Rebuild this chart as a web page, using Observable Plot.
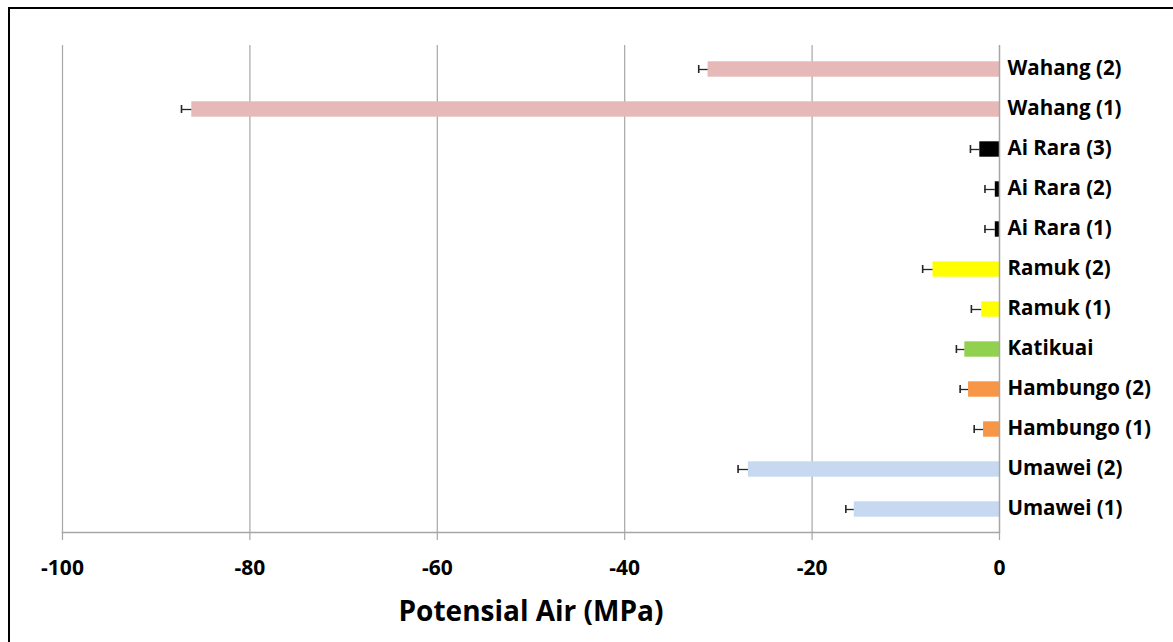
<!DOCTYPE html>
<html>
<head>
<meta charset="utf-8">
<script src="https://cdn.jsdelivr.net/npm/d3@7"></script>
<script src="https://cdn.jsdelivr.net/npm/@observablehq/plot@0.6"></script>
<style>
  html, body { margin: 0; padding: 0; background: #fff; }
  body { width: 1173px; height: 642px; overflow: hidden; position: relative; }
  #border { position: absolute; left: 8px; top: 7px; width: 1200px; height: 700px;
            border-top: 2px solid #000; border-left: 2px solid #000; }
  #chart { position: absolute; left: 0; top: 0; }
</style>
</head>
<body>
<div id="border"></div>
<div id="chart"></div>
<script>
const sites = ["Wahang (2)", "Wahang (1)", "Ai Rara (3)", "Ai Rara (2)", "Ai Rara (1)",
  "Ramuk (2)", "Ramuk (1)", "Katikuai", "Hambungo (2)", "Hambungo (1)", "Umawei (2)", "Umawei (1)"];
const values = [-31.1, -86.2, -2.1, -0.45, -0.45, -7.1, -1.9, -3.7, -3.3, -1.7, -26.8, -15.5];
const errors = [1.0, 1.1, 1.0, 1.1, 1.1, 1.1, 1.1, 0.9, 0.9, 1.0, 1.1, 0.9];
const groups = ["Wahang", "Wahang", "Ai Rara", "Ai Rara", "Ai Rara", "Ramuk", "Ramuk",
  "Katikuai", "Hambungo", "Hambungo", "Umawei", "Umawei"];
const groupNames = ["Wahang", "Ai Rara", "Ramuk", "Katikuai", "Hambungo", "Umawei"];
const groupColors = ["#e6b9b8", "#000000", "#ffff00", "#92d050", "#f79646", "#c6d9f1"];
const xTicks = [-100, -80, -60, -40, -20, 0];
const xLabel = "Potensial Air (MPa)";

const data = sites.map((s, i) => ({site: s, value: values[i], err: errors[i], group: groups[i]}));

const plot = Plot.plot({
  width: 1173,
  height: 642,
  marginLeft: 62,
  marginRight: 174,
  marginTop: 45,
  marginBottom: 110,
  style: {fontFamily: "'Open Sans', Lato, sans-serif", background: "transparent"},
  x: {domain: [-100, 0], ticks: xTicks, tickFormat: d => d === 0 ? "0" : String(d)},
  y: {domain: sites, padding: 0, axis: null},
  color: {domain: groupNames, range: groupColors},
  marks: [
    Plot.ruleX(xTicks.filter(t => t !== 0), {stroke: "#a6a6a6", strokeWidth: 1.2, strokeOpacity: 1}),
    Plot.frame({anchor: "bottom", stroke: "#a6a6a6", strokeWidth: 1.5}),
    Plot.axisX({ticks: xTicks, tickSize: 8, tickPadding: 20, stroke: "#a6a6a6", strokeWidth: 1.2,
      fontSize: 21, fontWeight: "bold", fill: "#000",
      tickFormat: d => d === 0 ? "0" : String(d),
      label: xLabel, labelAnchor: "center", labelArrow: "none", labelOffset: 88}),
    Plot.barX(data, {x1: 0, x2: "value", y: "site", fill: "group", insetTop: 12.3, insetBottom: 12.3}),
    Plot.ruleY(data, {y: "site", x1: "value", x2: d => d.value - d.err, stroke: "#262626", strokeWidth: 1.3}),
    Plot.tickX(data, {x: d => d.value - d.err, y: "site", stroke: "#262626", strokeWidth: 1.6, insetTop: 16, insetBottom: 16}),
    Plot.ruleX([0], {stroke: "#a6a6a6", strokeWidth: 1.5}),
    Plot.text(data, {x: 0, y: "site", text: "site", dx: 8, dy: -1, textAnchor: "start",
      fontSize: 20.5, fontWeight: "bold", fill: "#000"})
  ]
});
document.getElementById("chart").appendChild(plot);
const lbl = plot.querySelectorAll("g[aria-label='x-axis label'] text");
lbl.forEach(t => { t.setAttribute("font-size", "28"); t.setAttribute("font-weight", "bold"); t.setAttribute("fill", "#000"); });
</script>
</body>
</html>
